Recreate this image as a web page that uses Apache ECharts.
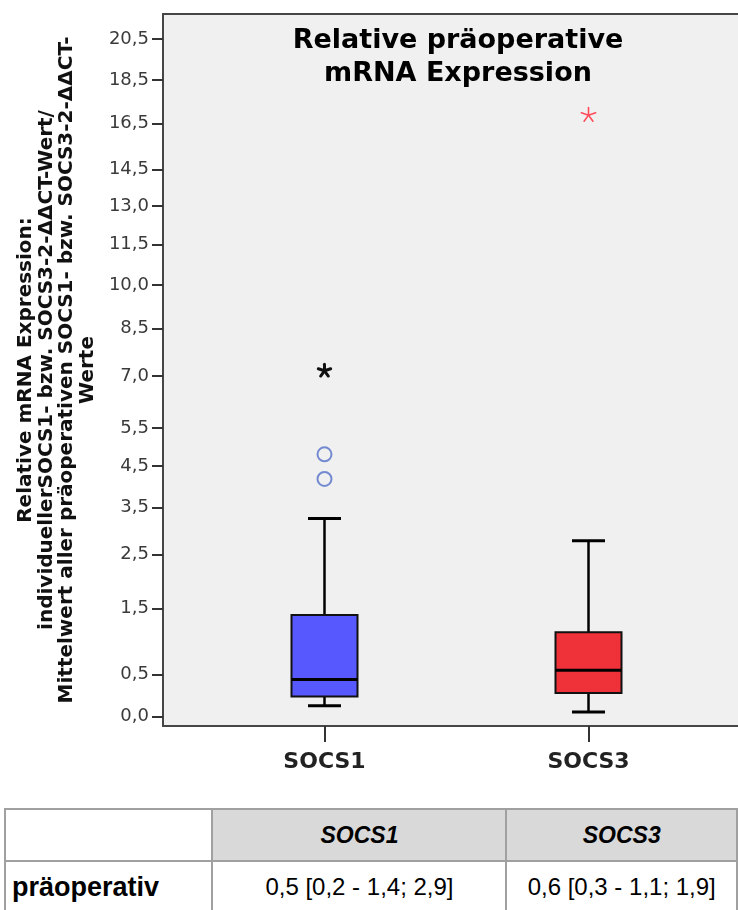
<!DOCTYPE html>
<html><head><meta charset="utf-8">
<script src="https://cdn.jsdelivr.net/npm/echarts@6/dist/echarts.min.js"></script>
<style>
html,body{margin:0;padding:0;background:#fff;width:738px;height:910px;overflow:hidden;}
#chart{position:absolute;left:0;top:0;width:738px;height:800px;}
#tbl{position:absolute;left:4px;top:808px;border-collapse:collapse;font-family:"Liberation Sans",Arial,sans-serif;color:#000;table-layout:fixed;}
#tbl td{border:2px solid #a0a0a0;text-align:center;padding:0;}
#tbl tr.h td{height:50px;font-weight:bold;font-style:italic;font-size:23px;}
#tbl tr.h td.g{background:#d9d9d9;}
#tbl tr.r td{height:50px;font-size:24px;}
#tbl tr.r td.l{text-align:left;padding-left:6px;font-weight:bold;font-size:27px;}
</style></head><body>
<div id="chart"></div>
<table id="tbl">
<colgroup><col style="width:208px"><col style="width:296px"><col style="width:232px"></colgroup>
<tr class="h"><td id="h0"></td><td class="g" id="h1"></td><td class="g" id="h2"></td></tr>
<tr class="r"><td class="l" id="r0"></td><td id="r1"></td><td id="r2"></td></tr>
</table>
<script>
// ---- data ----
const categories = ['SOCS1', 'SOCS3'];
const whiskerLow  = [0.12, 0.05];
const quartile1   = [0.23, 0.27];
const medians     = [0.44, 0.56];
const quartile3   = [1.39, 1.11];
const whiskerHigh = [3.26, 2.78];
const outlierCat  = [0, 0];          // circles (outliers)
const outlierVal  = [4.80, 4.18];
const extremeCat  = [0, 1];          // stars (extreme values)
const extremeVal  = [7.16, 16.88];
const yTickValues = [0, 0.5, 1.5, 2.5, 3.5, 4.5, 5.5, 7.0, 8.5, 10.0, 11.5, 13.0, 14.5, 16.5, 18.5, 20.5];
const chartTitle = 'Relative präoperative\nmRNA Expression';
const yAxisTitle = 'Relative mRNA Expression:\nindividuellerSOCS1- bzw. SOCS3-2-ΔΔCT-Wert/\nMittelwert aller präoperativen SOCS1- bzw. SOCS3-2-ΔΔCT-\nWerte';
const tableHeader = ['', 'SOCS1', 'SOCS3'];
const tableRowLabel = 'präoperativ';
const tableValues = ['0,5 [0,2 - 1,4; 2,9]', '0,6 [0,3 - 1,1; 1,9]'];

// table
document.getElementById('h0').textContent = tableHeader[0];
document.getElementById('h1').textContent = tableHeader[1];
document.getElementById('h2').textContent = tableHeader[2];
document.getElementById('r0').textContent = tableRowLabel;
document.getElementById('r1').textContent = tableValues[0];
document.getElementById('r2').textContent = tableValues[1];

// the value axis is a sqrt(v+1) scale
const tf = v => Math.sqrt(v + 1);
const fmt = v => v.toFixed(1).replace('.', ',');
const yTickT = yTickValues.map(tf);

const boxColors = ['#5858ff', '#ef323a'];
const starColors = ['#111111', '#ff4a5a'];

const boxData = categories.map((c, i) => [i + 1, tf(whiskerLow[i]), tf(quartile1[i]), tf(medians[i]), tf(quartile3[i]), tf(whiskerHigh[i]), i]);
const circleData = outlierCat.map((c, i) => [c + 1, tf(outlierVal[i])]);
const starData = extremeCat.map((c, i) => [c + 1, tf(extremeVal[i]), c]);

const chart = echarts.init(document.getElementById('chart'), null, {renderer: 'canvas'});
chart.setOption({
  animation: false,
  backgroundColor: '#ffffff',
  grid: {left: 163, top: 14, right: -12, height: 712, show: true, backgroundColor: '#f0f0f0',
         borderColor: '#464646', borderWidth: 2, containLabel: false, outerBoundsMode: 'none'},
  graphic: [{
    type: 'text', x: 458, y: 24, z: 100,
    style: {text: chartTitle, align: 'center', verticalAlign: 'top',
            font: 'bold 27px "DejaVu Sans"', lineHeight: 33, fill: '#000'}
  }],
  xAxis: {
    type: 'value', min: 0.3883, max: 2.6117,
    splitLine: {show: false},
    axisLine: {show: true, onZero: false, lineStyle: {color: '#464646', width: 2}},
    axisTick: {show: true, customValues: [1, 2], length: 16, lineStyle: {color: '#333', width: 2}},
    axisLabel: {customValues: [1, 2], margin: 25, formatter: v => categories[Math.round(v) - 1],
                fontFamily: 'DejaVu Sans', fontWeight: 'bold', fontSize: 22, color: '#222'}
  },
  yAxis: {
    type: 'value', min: 0.9501, max: 4.7713,
    splitLine: {show: false},
    axisLine: {show: true, onZero: false, lineStyle: {color: '#464646', width: 2}},
    axisTick: {show: true, customValues: yTickT, length: 11, lineStyle: {color: '#333', width: 2}},
    axisLabel: {customValues: yTickT, margin: 14,
                formatter: v => { let b = 0; yTickT.forEach((t, i) => { if (Math.abs(t - v) < Math.abs(yTickT[b] - v)) b = i; }); return fmt(yTickValues[b]); },
                fontFamily: 'DejaVu Sans', fontSize: 18, color: '#3a3a3a'},
    name: yAxisTitle, nameLocation: 'middle', nameRotate: 90, nameGap: 65, nameMoveOverlap: false,
    nameTextStyle: {fontFamily: 'DejaVu Sans', fontWeight: 'bold', fontSize: 20, lineHeight: 20.5, color: '#111', align: 'center'}
  },
  series: [
    {
      type: 'custom', data: boxData, encode: {x: 0, y: [1, 2, 3, 4, 5]}, z: 3,
      renderItem: (params, api) => {
        const x = api.value(0);
        const lo = api.coord([x, api.value(1)]);
        const q1 = api.coord([x, api.value(2)]);
        const md = api.coord([x, api.value(3)]);
        const q3 = api.coord([x, api.value(4)]);
        const hi = api.coord([x, api.value(5)]);
        const w = api.size([0.25, 0])[0];
        const cw = w / 2;
        const cx = lo[0];
        const col = boxColors[api.value(6)];
        const ls = {stroke: '#000', lineWidth: 2.5};
        return {type: 'group', children: [
          {type: 'line', shape: {x1: cx, y1: hi[1], x2: cx, y2: q3[1]}, style: ls},
          {type: 'line', shape: {x1: cx, y1: q1[1], x2: cx, y2: lo[1]}, style: ls},
          {type: 'line', shape: {x1: cx - cw / 2, y1: hi[1], x2: cx + cw / 2, y2: hi[1]}, style: {stroke: '#000', lineWidth: 3}},
          {type: 'line', shape: {x1: cx - cw / 2, y1: lo[1], x2: cx + cw / 2, y2: lo[1]}, style: {stroke: '#000', lineWidth: 3}},
          {type: 'rect', shape: {x: cx - w / 2, y: q3[1], width: w, height: q1[1] - q3[1]}, style: {fill: col, stroke: '#111', lineWidth: 2}},
          {type: 'line', shape: {x1: cx - w / 2, y1: md[1], x2: cx + w / 2, y2: md[1]}, style: {stroke: '#000', lineWidth: 3}}
        ]};
      }
    },
    {
      type: 'scatter', data: circleData, symbol: 'circle', symbolSize: 14, z: 4,
      itemStyle: {color: 'rgba(0,0,0,0)', borderColor: '#5470c8', borderWidth: 2}
    },
    {
      type: 'custom', data: starData, encode: {x: 0, y: 1}, z: 4,
      renderItem: (params, api) => {
        const p = api.coord([api.value(0), api.value(1)]);
        const ci = api.value(2);
        const r = ci === 0 ? 6.5 : 7.5;
        const lw = ci === 0 ? 3 : 1.6;
        const children = [];
        for (let k = 0; k < 5; k++) {
          const a = -Math.PI / 2 + k * 2 * Math.PI / 5;
          children.push({type: 'line', shape: {x1: p[0], y1: p[1], x2: p[0] + r * Math.cos(a), y2: p[1] + r * Math.sin(a)},
                         style: {stroke: starColors[ci], lineWidth: lw, lineCap: 'round'}});
        }
        return {type: 'group', children};
      }
    }
  ]
});
</script>
</body></html>
